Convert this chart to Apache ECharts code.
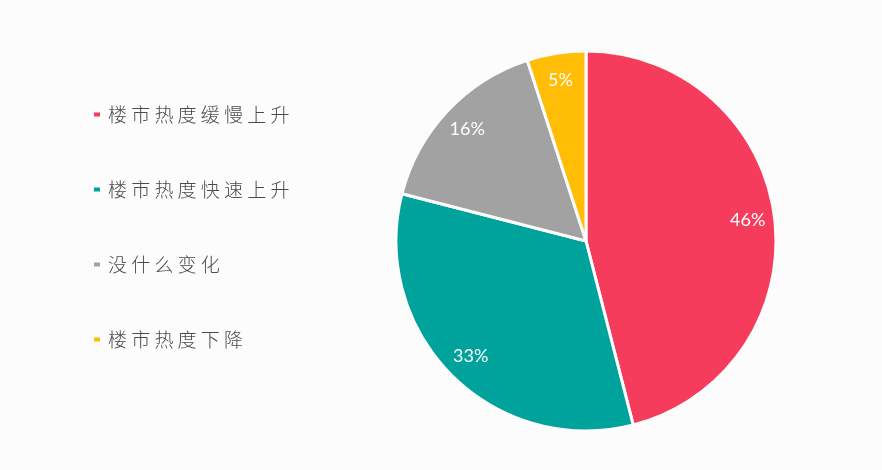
<!DOCTYPE html>
<html>
<head>
<meta charset="utf-8">
<script src="https://cdn.jsdelivr.net/npm/echarts@6/dist/echarts.min.js"></script>
<style>
	html, body { margin: 0; padding: 0; background: #fcfcfd; }
	#main { width: 882px; height: 470px; }
</style>
</head>
<body>
<div id="main"></div>
<script>
var categories = ['楼市热度缓慢上升', '楼市热度快速上升', '没什么变化', '楼市热度下降'];
var values = [46, 33, 16, 5];
var colors = ['#f53c5c', '#00a39b', '#a3a2a3', '#ffbd06'];

var pieData = categories.map(function(name, i){
	return { name: name, value: values[i], itemStyle: { color: colors[i] } };
});

var chart = echarts.init(document.getElementById('main'));

chart.setOption({
	backgroundColor: '#fcfcfd',
	animation: false,
	legend: {
		orient: 'vertical',
		left: 87,
		top: 100,
		itemWidth: 8,
		itemHeight: 6,
		itemGap: 56,
		icon: 'rect',
		// 原图文字字距较宽
		formatter: function(name){
			return name.split('').join(' ');
		},
		textStyle: {
			fontFamily: 'Noto Sans CJK SC',
			fontSize: 19,
			fontWeight: 300,
			color: '#4a4a4a',
			padding: [0, 0, 0, 2]
		},
		data: categories
	},
	series: [
		{
			type: 'pie',
			center: [586, 241],
			radius: [0, 190],
			startAngle: 90,
			clockwise: true,
			silent: true,
			label: { show: false },
			labelLine: { show: false },
			itemStyle: { borderColor: '#fcfcfd', borderWidth: 3 },
			data: pieData
		},
		{
			// 只用于放置百分比标签
			type: 'pie',
			center: [586, 241],
			radius: [130, 190],
			startAngle: 90,
			clockwise: true,
			silent: true,
			legendHoverLink: false,
			itemStyle: { color: 'rgba(0,0,0,0)' },
			label: {
				show: true,
				position: 'inside',
				formatter: '{c}%',
				color: '#fff',
				fontFamily: 'Lato',
				fontSize: 18
			},
			labelLine: { show: false },
			data: values.map(function(v, i){
				return { name: 'lbl' + i, value: v };
			})
		}
	]
});
</script>
</body>
</html>
